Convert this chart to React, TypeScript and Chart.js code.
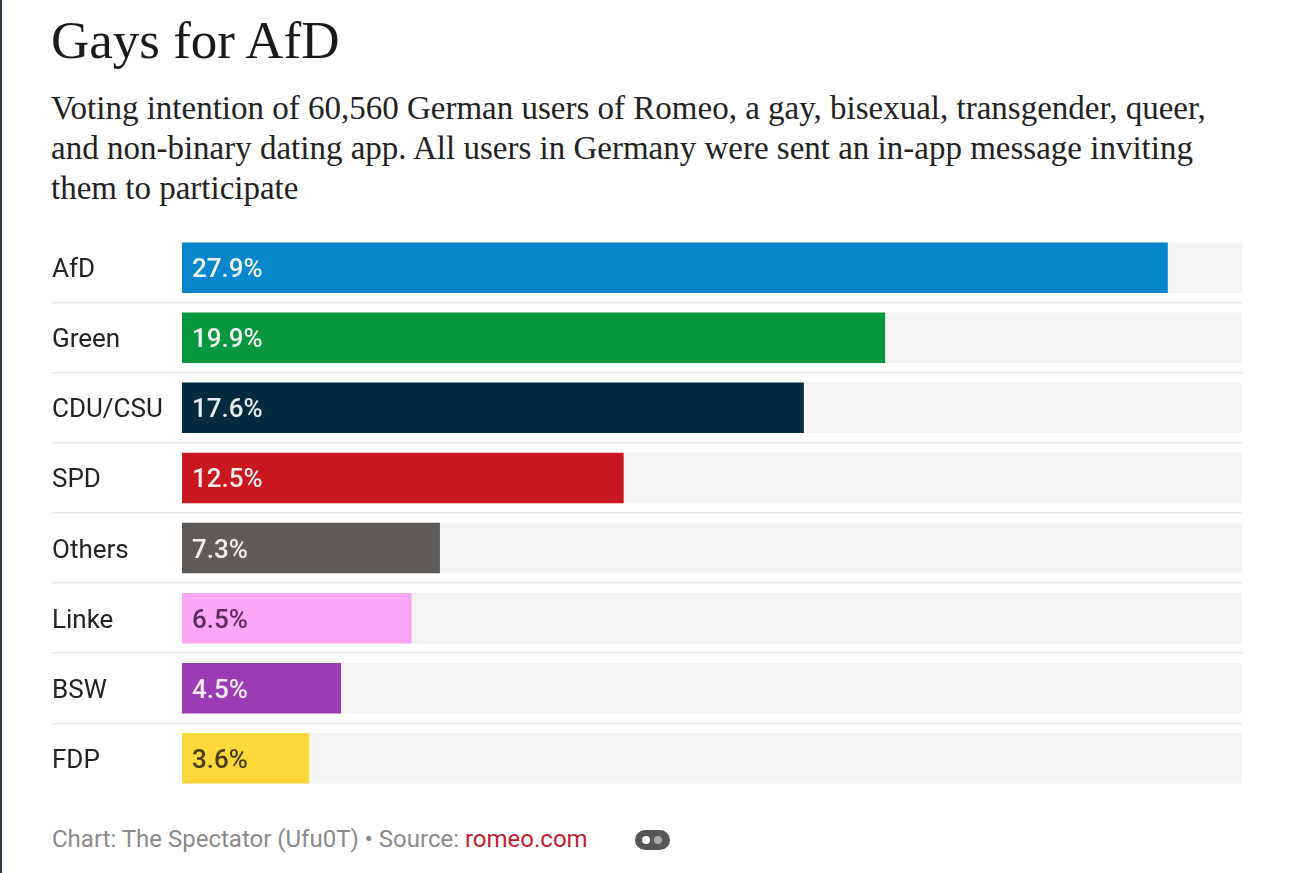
import React, { useEffect, useRef } from "react";
import { Chart, registerables } from "chart.js";

Chart.register(...registerables);

const categories = ["AfD", "Green", "CDU/CSU", "SPD", "Others", "Linke", "BSW", "FDP"];
const shares = [27.9, 19.9, 17.6, 12.5, 7.3, 6.5, 4.5, 3.6];
const barColors = ["#0787cb", "#08963f", "#032a3e", "#c8171f", "#5e5b58", "#fba6f7", "#9b3cb4", "#fcd93b"];
const labelColors = ["#eef6fb", "#eef8f1", "#e8eef2", "#fbeaea", "#efefef", "#5a2d5c", "#f6ecf8", "#4a3c12"];
const axisMax = 30;

const valueLabelPlugin = {
  id: "valueLabels",
  afterDatasetsDraw(chart: any) {
    const meta = chart.getDatasetMeta(0);
    const ctx = chart.ctx;
    ctx.save();
    ctx.font = "500 26px Roboto";
    ctx.textBaseline = "middle";
    ctx.textAlign = "left";
    meta.data.forEach((bar: any, i: number) => {
      ctx.fillStyle = labelColors[i];
      ctx.fillText(shares[i].toFixed(1) + "%", bar.base + 10, bar.y + 3);
    });
    ctx.restore();
  },
};

const sepColor = (c: any) =>
  c.type !== "tick" || c.index === 0 ? "rgba(0,0,0,0)" : "#e9e9e9";

function BarChart() {
  const ref = useRef<HTMLCanvasElement | null>(null);
  useEffect(() => {
    if (!ref.current) return;
    const chart = new Chart(ref.current, {
      type: "bar",
      data: {
        labels: categories,
        datasets: [
          {
            data: shares,
            backgroundColor: barColors,
            grouped: false,
            order: 0,
            barPercentage: 0.72,
            categoryPercentage: 1,
          } as any,
          {
            data: categories.map(() => axisMax),
            backgroundColor: "#f4f4f4",
            grouped: false,
            order: 1,
            barPercentage: 0.72,
            categoryPercentage: 1,
          } as any,
        ],
      },
      options: {
        indexAxis: "y",
        animation: false,
        responsive: true,
        maintainAspectRatio: false,
        layout: { padding: 0 },
        plugins: { legend: { display: false }, tooltip: { enabled: false } },
        scales: {
          x: { display: false, min: 0, max: axisMax },
          y: {
            border: { display: false },
            afterFit(scale: any) {
              scale.width = 130;
            },
            grid: {
              offset: true,
              lineWidth: 1.5,
              tickLength: 130,
              color: sepColor,
              tickColor: sepColor,
            },
            ticks: {
              crossAlign: "far",
              padding: 0,
              labelOffset: 3,
              color: "#222",
              font: { family: "Roboto", size: 26 },
            },
          },
        },
      } as any,
      plugins: [valueLabelPlugin],
    });
    return () => chart.destroy();
  }, []);
  return <canvas ref={ref} />;
}

export default function App() {
  return (
    <div
      style={{
        position: "absolute",
        left: 0,
        top: 0,
        width: 1302,
        height: 873,
        background: "#fff",
        overflow: "hidden",
      }}
    >
      <div style={{ position: "absolute", left: 0, top: 0, width: 2, height: 873, background: "#2c3a44" }} />
      <div
        style={{
          position: "absolute",
          left: 51,
          top: 8,
          fontFamily: "'Liberation Serif', serif",
          fontSize: 53,
          color: "#1a1a1a",
          whiteSpace: "nowrap",
          lineHeight: "64px",
        }}
      >
        Gays for AfD
      </div>
      <div
        style={{
          position: "absolute",
          left: 51,
          top: 88,
          fontFamily: "'Liberation Serif', serif",
          fontSize: 33,
          color: "#222",
          whiteSpace: "nowrap",
          lineHeight: "40px",
        }}
      >
        <div>Voting intention of 60,560 German users of Romeo, a gay, bisexual, transgender, queer,</div>
        <div>and non-binary dating app. All users in Germany were sent an in-app message inviting</div>
        <div>them to participate</div>
      </div>
      <div style={{ position: "absolute", left: 52, top: 217, width: 1190, height: 592 }}>
        <BarChart />
      </div>
      <div
        style={{
          position: "absolute",
          left: 52,
          top: 824,
          fontFamily: "Roboto, sans-serif",
          fontSize: 24,
          color: "#8a8a8a",
          whiteSpace: "nowrap",
          lineHeight: "30px",
        }}
      >
        Chart: The Spectator (Ufu0T) • Source: <span style={{ color: "#c3222c" }}>romeo.com</span>
      </div>
      <div
        style={{
          position: "absolute",
          left: 635,
          top: 830,
          width: 35,
          height: 20,
          borderRadius: 10,
          background: "#555",
        }}
      >
        <div style={{ position: "absolute", left: 7, top: 6, width: 8, height: 8, borderRadius: 4, background: "#fff" }} />
        <div style={{ position: "absolute", left: 19, top: 6, width: 8, height: 8, borderRadius: 4, background: "#aaa" }} />
      </div>
    </div>
  );
}
